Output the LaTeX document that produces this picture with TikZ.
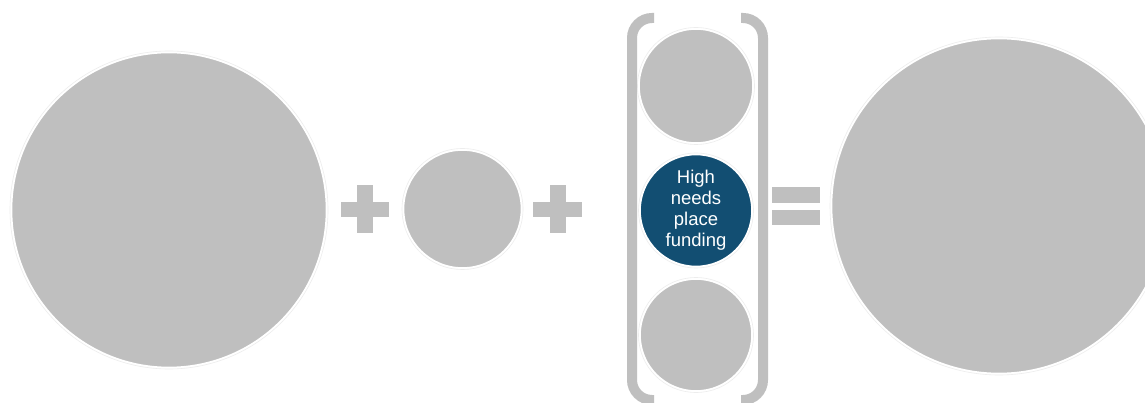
\documentclass[tikz,border=0pt]{standalone}
\usepackage{fontspec}
\setmainfont{Liberation Sans}
\definecolor{cgray}{HTML}{BFBFBF}
\definecolor{cblue}{HTML}{124E72}
\definecolor{cring}{HTML}{EDEDED}
\begin{document}
\begin{tikzpicture}[x=1pt,y=-1pt,
  disc/.style={circle,fill=cgray,draw=white,line width=2pt,inner sep=0pt,
    double=cring,double distance=0.6pt},
  bluedisc/.style={disc,fill=cblue,text=white,align=center,
    font=\fontsize{18.5}{21}\selectfont},
  sym/.style={fill=cgray},
  brk/.style={draw=cgray,line width=10pt,rounded corners=20pt}]
\useasboundingbox (0,0) rectangle (1145,403);
\clip (0,0) rectangle (1145,403);
\fill[white] (0,0) rectangle (1145,403);
% circles
\node[disc,minimum size=318pt] (big1) at (169,210) {};
\node[disc,minimum size=121pt] (small) at (462.5,209) {};
\node[disc,minimum size=117pt] (top) at (696,86) {};
\node[bluedisc,minimum size=115pt] (hn) at (696,210.5) {High\\needs\\place\\funding};
\node[disc,minimum size=115pt] (bot) at (696,335) {};
\node[disc,minimum size=338pt] (big2) at (999,206) {};
% plus signs
\fill[sym] (341,202) rectangle (389,217);
\fill[sym] (357,185) rectangle (373,233);
\fill[sym] (533,202) rectangle (582,217);
\fill[sym] (550,185) rectangle (566,233);
% equals
\fill[sym] (772,187) rectangle (820,203);
\fill[sym] (772,210) rectangle (820,225);
% brackets
\draw[brk] (654,18) -- (632,18) -- (632,400) -- (654,400);
\draw[brk] (741,18) -- (763,18) -- (763,400) -- (741,400);
\end{tikzpicture}
\end{document}
